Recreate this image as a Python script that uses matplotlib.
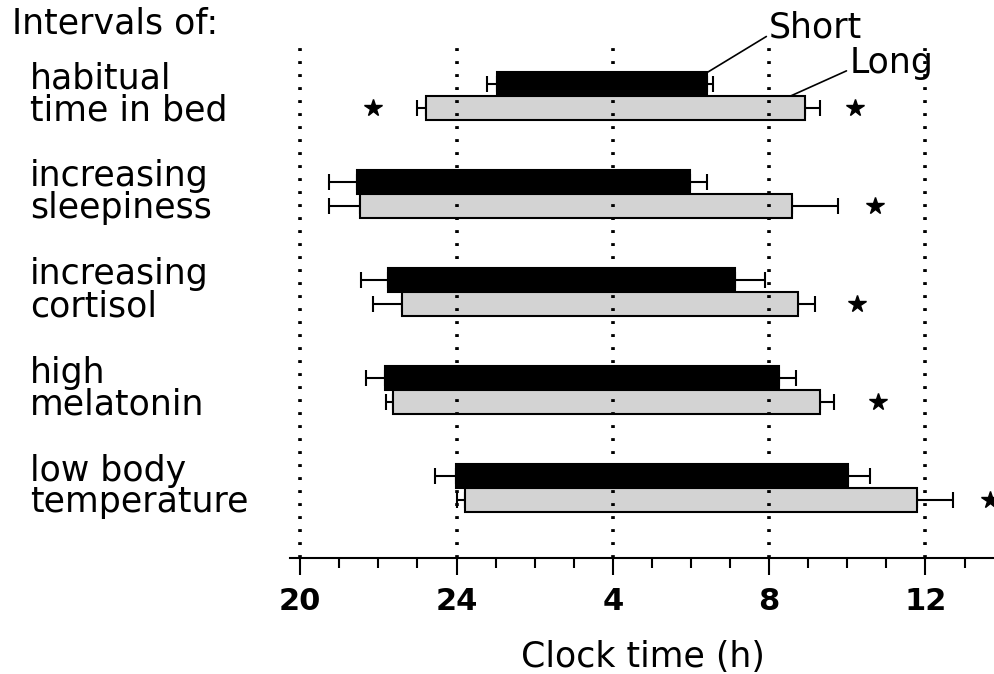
import matplotlib.pyplot as plt
import matplotlib.transforms as mtransforms

plt.rcParams["font.family"] = ["DejaVu Sans"]

# clock time in hours counted from 20 h (24 -> 24, 4 -> 28, 8 -> 32, 12 -> 36)
labels = [
    ("habitual", "time in bed"),
    ("increasing", "sleepiness"),
    ("increasing", "cortisol"),
    ("high", "melatonin"),
    ("low body", "temperature"),
]
short_start = [25.04, 21.46, 22.25, 22.17, 23.99]
short_end = [30.40, 29.97, 31.13, 32.25, 34.02]
short_err_lo = [0.25, 0.72, 0.70, 0.48, 0.54]
short_err_hi = [0.16, 0.43, 0.77, 0.44, 0.56]

long_start = [23.22, 21.53, 22.60, 22.38, 24.22]
long_end = [32.93, 32.58, 32.74, 33.30, 35.78]
long_err_lo = [0.23, 0.80, 0.73, 0.18, 0.22]
long_err_hi = [0.36, 1.18, 0.43, 0.36, 0.92]

star_left = {0: 21.86}
star_right = {0: 34.19, 1: 34.70, 2: 34.25, 3: 34.78, 4: 37.65}

major_ticks = [20, 24, 28, 32, 36]
major_labels = ["20", "24", "4", "8", "12"]

fig = plt.figure(figsize=(9.95, 6.74), dpi=100)
ax = fig.add_axes([0.2915, 0.172, 0.7085, 0.761])

h = 0.245
rows = range(len(labels))
for i in rows:
    ax.barh(i - h / 2, short_end[i] - short_start[i], left=short_start[i],
            height=h, color="black", edgecolor="black", lw=1.5, zorder=2)
    ax.barh(i + h / 2, long_end[i] - long_start[i], left=long_start[i],
            height=h, color="#d3d3d3", edgecolor="black", lw=1.5, zorder=2)
    # whiskers only on the outer side of each bar end
    for x, y, lo, hi in [(short_start[i], i - h / 2, short_err_lo[i], 0),
                         (short_end[i], i - h / 2, 0, short_err_hi[i]),
                         (long_start[i], i + h / 2, long_err_lo[i], 0),
                         (long_end[i], i + h / 2, 0, long_err_hi[i])]:
        ax.errorbar(x, y, xerr=[[lo], [hi]], fmt="none", ecolor="black",
                    elinewidth=1.5, capsize=6, capthick=1.5, zorder=1)

for i, x in star_left.items():
    ax.plot(x, i + h / 2, marker="*", color="black", ms=13, clip_on=False)
for i, x in star_right.items():
    ax.plot(x, i + h / 2, marker="*", color="black", ms=13, clip_on=False)

for x in major_ticks:
    ax.axvline(x, color="black", lw=2.6, ls=(0, (0.8, 2.8)), zorder=3)

ax.set_xlim(19.74, 37.78)
ax.set_ylim(4.71, -0.52)

# group labels with leader lines
ax.annotate("Short", xy=(30.43, -h), xytext=(32.0, -h - 0.45),
            fontsize=25, va="center", ha="left", annotation_clip=False,
            arrowprops=dict(arrowstyle="-", color="black", lw=1.2,
                            shrinkA=0, shrinkB=0, relpos=(0, 0.3)))
ax.annotate("Long", xy=(32.54, 0), xytext=(34.05, -0.34),
            fontsize=25, va="center", ha="left", annotation_clip=False,
            arrowprops=dict(arrowstyle="-", color="black", lw=1.2,
                            shrinkA=0, shrinkB=0, relpos=(0, 0.3)))

trans = mtransforms.blended_transform_factory(fig.transFigure, ax.transData)
for i, (a, b) in enumerate(labels):
    ax.text(0.03, i - 0.08, a, transform=trans, fontsize=25, va="baseline", ha="left")
    ax.text(0.03, i + 0.245, b, transform=trans, fontsize=25, va="baseline", ha="left")
fig.text(0.012, 0.951, "Intervals of:", fontsize=25, va="baseline", ha="left")

for s in ["top", "right", "left"]:
    ax.spines[s].set_visible(False)
ax.spines["bottom"].set_linewidth(1.5)
ax.set_yticks([])
ax.set_xticks(major_ticks)
ax.set_xticklabels(major_labels, fontsize=22, fontweight="bold")
ax.set_xticks(range(20, 38), minor=True)
ax.tick_params(axis="x", which="major", length=12, width=1.5, pad=9)
ax.tick_params(axis="x", which="minor", length=7, width=1.5)
ax.set_xlabel("Clock time (h)", fontsize=25, labelpad=17)

fig.savefig("out.png", dpi=100)
